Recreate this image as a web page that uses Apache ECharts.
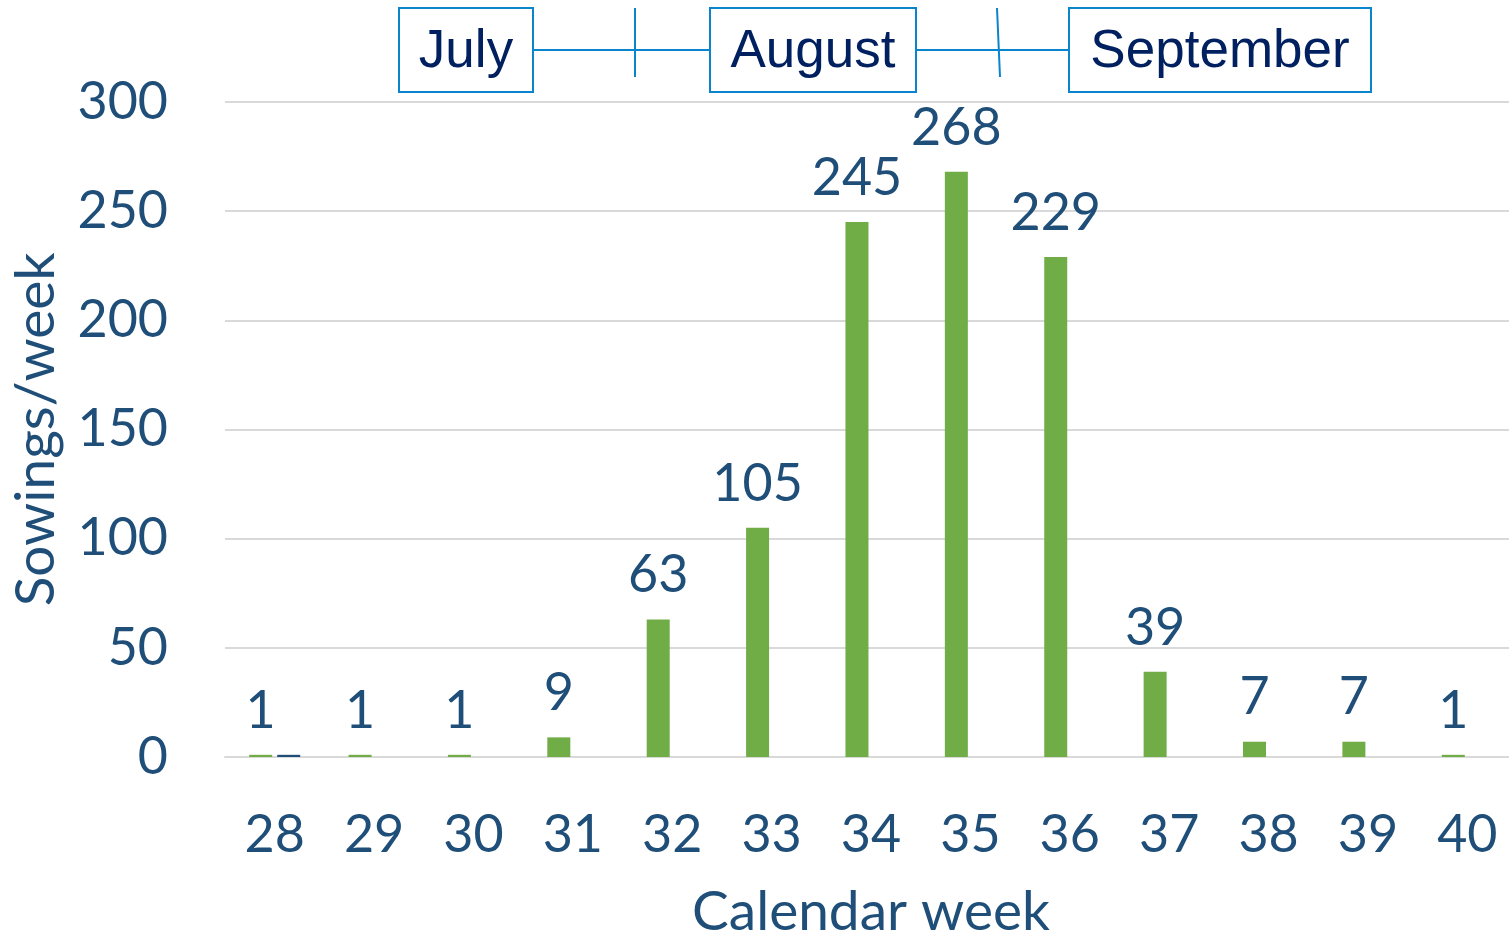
<!DOCTYPE html>
<html>
<head>
<meta charset="utf-8">
<script src="https://cdn.jsdelivr.net/npm/echarts@6/dist/echarts.min.js"></script>
<style>
  html, body { margin: 0; padding: 0; background: #fff; }
  #chart { width: 1509px; height: 937px; }
</style>
</head>
<body>
<div id="chart"></div>
<script>
const weeks = ['28', '29', '30', '31', '32', '33', '34', '35', '36', '37', '38', '39', '40'];
const sowings = [1, 1, 1, 9, 63, 105, 245, 268, 229, 39, 7, 7, 1];
const sowingsOther = [1, 0, 0, 0, 0, 0, 0, 0, 0, 0, 0, 0, 0];
const yTicks = [0, 50, 100, 150, 200, 250, 300];
const months = ['July', 'August', 'September'];

const navy = '#1F4E79';
const boxBlue = '#0B84CE';
const font = 'Lato, "Open Sans", sans-serif';

const chart = echarts.init(document.getElementById('chart'));

// month boxes along the top
const boxes = [
  { x: 399, w: 134 },
  { x: 710, w: 206 },
  { x: 1069, w: 302 }
];
const graphics = [];
boxes.forEach((b, i) => {
  graphics.push({
    type: 'rect',
    shape: { x: b.x, y: 8, width: b.w, height: 84 },
    style: { fill: '#fff', stroke: boxBlue, lineWidth: 2 }
  });
  graphics.push({
    type: 'text',
    x: b.x + b.w / 2, y: 52,
    style: {
      text: months[i], fill: '#002060', font: '53px "Liberation Sans", Arial, sans-serif',
      align: 'center', verticalAlign: 'middle'
    }
  });
});
// connectors with month break ticks
graphics.push(
  { type: 'line', shape: { x1: 533, y1: 50, x2: 710, y2: 50 }, style: { stroke: boxBlue, lineWidth: 2 } },
  { type: 'line', shape: { x1: 635, y1: 8, x2: 635, y2: 77 }, style: { stroke: boxBlue, lineWidth: 2 } },
  { type: 'line', shape: { x1: 916, y1: 50, x2: 1069, y2: 50 }, style: { stroke: boxBlue, lineWidth: 2 } },
  { type: 'line', shape: { x1: 997, y1: 8, x2: 1000, y2: 77 }, style: { stroke: boxBlue, lineWidth: 2 } }
);

chart.setOption({
  backgroundColor: '#fff',
  animation: false,
  textStyle: { fontFamily: font },
  grid: { left: 225, right: -8, top: 102, bottom: 180, containLabel: false, outerBoundsMode: 'none' },
  xAxis: {
    type: 'category',
    data: weeks,
    name: 'Calendar week',
    nameLocation: 'middle',
    nameGap: 128,
    nameTextStyle: { color: navy, fontSize: 55, fontFamily: font },
    axisLine: { show: true, lineStyle: { color: '#D9D9D9', width: 2 } },
    axisTick: { show: false },
    axisLabel: { color: navy, fontSize: 52, margin: 52, fontFamily: font }
  },
  yAxis: {
    type: 'value',
    min: yTicks[0],
    max: yTicks[yTicks.length - 1],
    interval: 50,
    name: 'Sowings/week',
    nameLocation: 'middle',
    nameGap: 161,
    nameTextStyle: { color: navy, fontSize: 55, fontFamily: font },
    axisLine: { show: false },
    axisTick: { show: false },
    axisLabel: { color: navy, fontSize: 52, margin: 57, fontFamily: font },
    splitLine: { lineStyle: { color: '#D9D9D9', width: 2 } }
  },
  series: [
    {
      type: 'bar',
      data: sowings,
      barWidth: 23,
      barGap: '22%',
      itemStyle: { color: '#70AD47' },
      label: {
        show: true, position: 'top', distance: 18,
        color: navy, fontSize: 52, fontFamily: font
      }
    },
    {
      type: 'bar',
      data: sowingsOther,
      barWidth: 23,
      itemStyle: { color: navy }
    }
  ],
  graphic: graphics
});
</script>
</body>
</html>
